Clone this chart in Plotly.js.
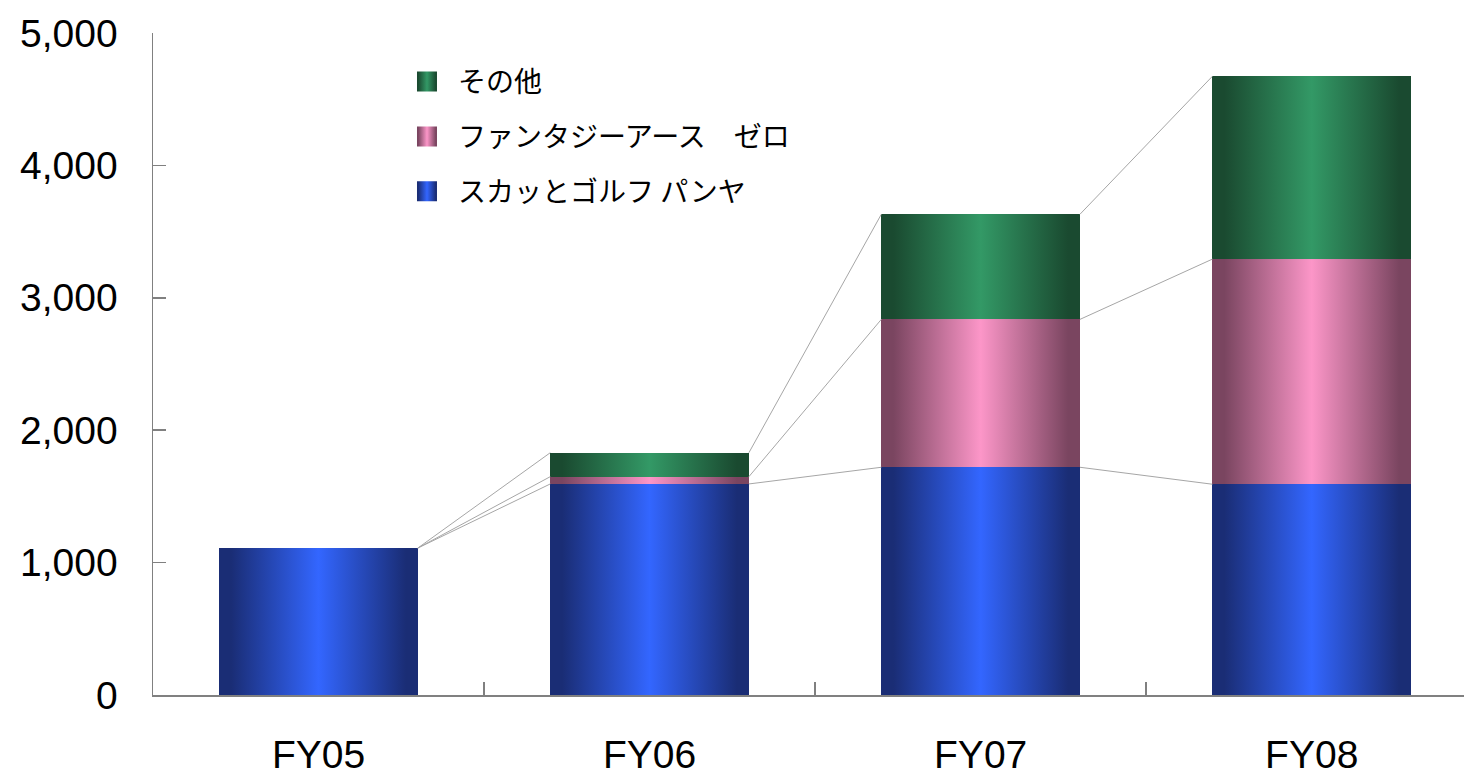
<!DOCTYPE html>
<html>
<head>
<meta charset="utf-8">
<script src="https://cdn.plot.ly/plotly-3.0.1.min.js"></script>
<style>
html,body{margin:0;padding:0;background:#fff;}
#chart{width:1464px;height:771px;}
</style>
</head>
<body>
<div id="chart"></div>
<script>
const categories = ['FY05', 'FY06', 'FY07', 'FY08'];
const seriesNames = ['スカッとゴルフ パンヤ', 'ファンタジーアース　ゼロ', 'その他'];
const panya = [1110, 1594, 1720, 1592];
const fez = [0, 55, 1117, 1700];
const other = [0, 181, 794, 1381];
const yTickVals = [0, 1000, 2000, 3000, 4000, 5000];

const seriesValues = [panya, fez, other];
const gradColors = [
  {id: 'gBlue', dark: '#1a2d75', light: '#3366ff'},
  {id: 'gPink', dark: '#7a4560', light: '#fc96c8'},
  {id: 'gGreen', dark: '#1a4a30', light: '#339966'}
];

const xIdx = categories.map((c, i) => i);
const barWidth = 0.6;
const traces = [];
seriesValues.forEach((vals, k) => {
  traces.push({
    type: 'bar', x: xIdx, y: vals, name: seriesNames[k],
    width: barWidth,
    legendgroup: 'g' + k,
    legendrank: 10 - k,
    marker: {color: gradColors[k].light, line: {width: 0}},
    hoverinfo: 'skip'
  });
});
// connector lines between cumulative tops
const cum = [];
seriesValues.forEach((vals, k) => {
  cum.push(vals.map((v, i) => v + (k > 0 ? cum[k - 1][i] : 0)));
});
cum.forEach((c, k) => {
  for (let i = 0; i < categories.length - 1; i++) {
    traces.push({
      type: 'scatter', mode: 'lines',
      x: [xIdx[i] + barWidth / 2, xIdx[i + 1] - barWidth / 2],
      y: [c[i], c[i + 1]],
      line: {color: '#a6a6a6', width: 1},
      showlegend: false, hoverinfo: 'skip'
    });
  }
});

const layout = {
  width: 1464, height: 771,
  margin: {l: 153, r: 0, t: 33, b: 76},
  paper_bgcolor: '#ffffff', plot_bgcolor: '#ffffff',
  barmode: 'stack',
  showlegend: true,
  legend: {
    x: 0.1945, y: 0.964, xanchor: 'left', yanchor: 'top',
    traceorder: 'grouped', tracegroupgap: 15.5,
    itemwidth: 40,
    font: {family: '"Noto Sans CJK JP", "Liberation Sans", sans-serif', size: 28, color: '#000'},
    bgcolor: 'rgba(0,0,0,0)'
  },
  xaxis: {
    range: [-0.5, 3.46],
    tickmode: 'array', tickvals: xIdx, ticktext: categories,
    ticks: '', showgrid: false, zeroline: false,
    showline: true, linecolor: '#808080', linewidth: 1.5,
    ticklabelstandoff: 25,
    tickfont: {family: '"Liberation Sans", Arial, sans-serif', size: 39, color: '#000'},
    minor: {tickmode: 'array', tickvals: [0.5, 1.5, 2.5], ticks: 'inside', ticklen: 13, tickwidth: 1.5, tickcolor: '#808080'}
  },
  yaxis: {
    range: [0, 5000],
    tickmode: 'array', tickvals: yTickVals, tickformat: ',',
    ticks: 'inside', ticklen: 13, tickwidth: 1.5, tickcolor: '#808080',
    showgrid: false, zeroline: false,
    showline: true, linecolor: '#808080', linewidth: 1.5,
    ticklabelstandoff: 26,
    tickfont: {family: '"Liberation Sans", Arial, sans-serif', size: 39, color: '#000'}
  }
};

function applyGradients(gd) {
  const svg = gd.querySelector('svg.main-svg');
  const ns = 'http://www.w3.org/2000/svg';
  let defs = svg.querySelector('defs');
  if (!defs) { defs = document.createElementNS(ns, 'defs'); svg.insertBefore(defs, svg.firstChild); }
  gradColors.forEach(g => {
    if (document.getElementById(g.id)) return;
    const lg = document.createElementNS(ns, 'linearGradient');
    lg.setAttribute('id', g.id);
    lg.setAttribute('x1', '0'); lg.setAttribute('x2', '1');
    lg.setAttribute('y1', '0'); lg.setAttribute('y2', '0');
    [[0, g.dark], [0.06, g.dark], [0.5, g.light], [0.94, g.dark], [1, g.dark]].forEach(s => {
      const st = document.createElementNS(ns, 'stop');
      st.setAttribute('offset', s[0]);
      st.setAttribute('stop-color', s[1]);
      lg.appendChild(st);
    });
    defs.appendChild(lg);
  });
  const nameToGrad = {};
  seriesNames.forEach((n, k) => nameToGrad[n] = gradColors[k].id);
  gd.querySelectorAll('.barlayer g.trace.bars').forEach(tg => {
    const d = tg.__data__;
    const tr = d && d[0] && d[0].trace;
    if (!tr) return;
    const gid = nameToGrad[tr.name];
    if (!gid) return;
    tg.querySelectorAll('path').forEach(p => { p.style.fill = 'url(#' + gid + ')'; });
  });
  gd.querySelectorAll('.legend g.traces').forEach(tg => {
    const d = tg.__data__;
    const tr = d && d[0] && d[0].trace;
    if (!tr) return;
    const gid = nameToGrad[tr.name];
    if (!gid) return;
    const txt = tg.querySelector('text.legendtext');
    tg.querySelectorAll('.legendpoints path').forEach(p => {
      p.style.fill = 'url(#' + gid + ')';
      p.setAttribute('d', 'M10,10H-10V-10H10Z');
      if (txt) {
        const pr = p.getBoundingClientRect();
        const trc = txt.getBoundingClientRect();
        const cur = pr.left + pr.width / 2;
        const want = trc.left - 31;
        const dx = want - cur;
        p.setAttribute('d', 'M' + (10 + dx) + ',10H' + (-10 + dx) + 'V-10H' + (10 + dx) + 'Z');
      }
    });
  });
}

Plotly.newPlot('chart', traces, layout, {displayModeBar: false, staticPlot: true}).then(gd => {
  applyGradients(gd);
});
</script>
</body>
</html>
